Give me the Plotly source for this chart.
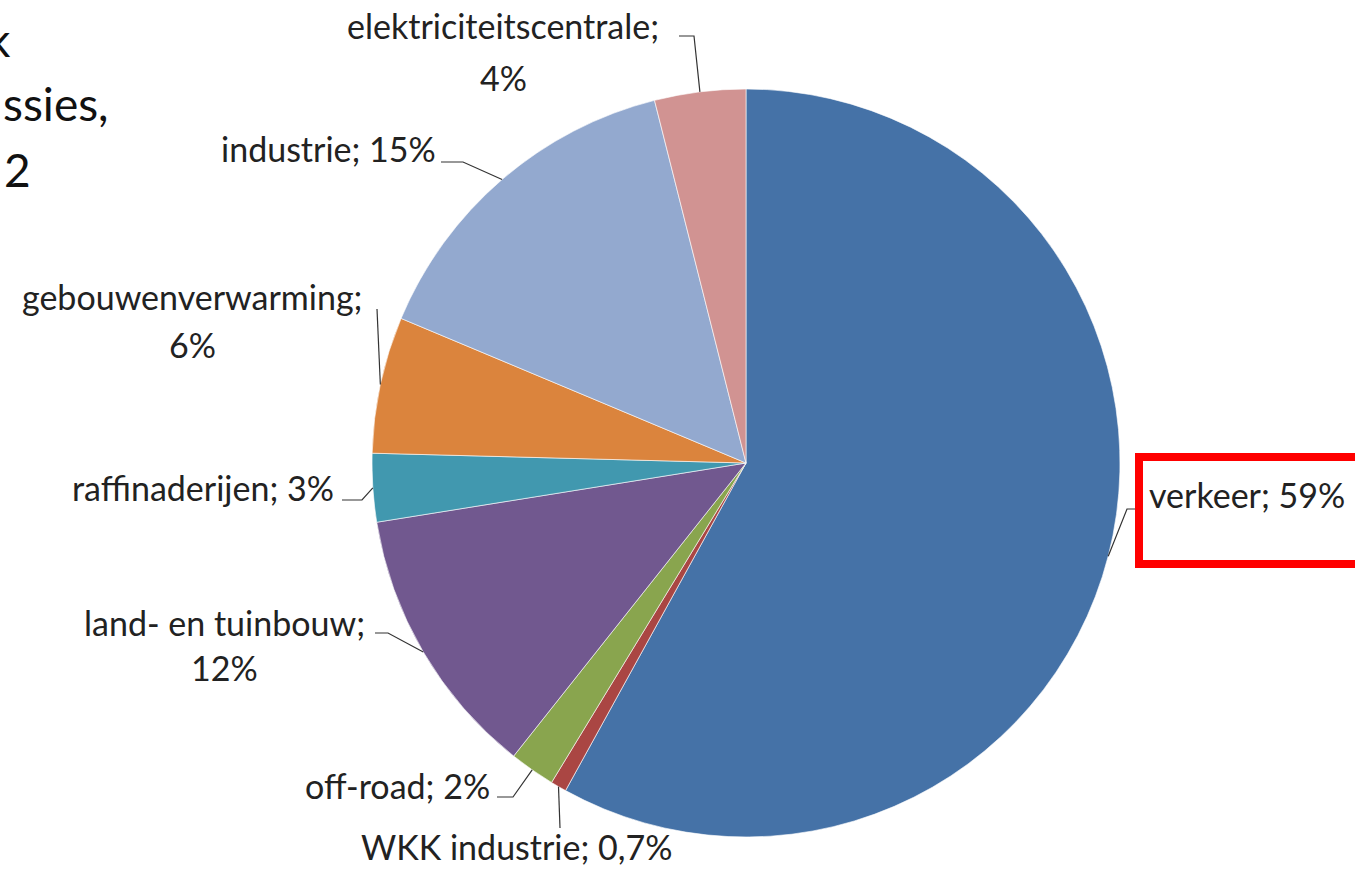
import math
import plotly.graph_objects as go

# ---- data ----
categories = ["verkeer", "WKK industrie", "off-road", "land- en tuinbouw",
              "raffinaderijen", "gebouwenverwarming", "industrie", "elektriciteitscentrale"]
values = [59, 0.7, 2, 12, 3, 6, 15, 4]
value_labels = ["59%", "0,7%", "2%", "12%", "3%", "6%", "15%", "4%"]
colors = ["#4572A7", "#AA4643", "#89A54E", "#71588F",
          "#4198AF", "#DB843D", "#93A9CF", "#D19392"]
title_fragments = ["k", "ssies,", "2"]

W, H = 1355, 872
CX, CY, R = 746, 463, 374  # pie centre / radius in px


def px(x):
    return x / W


def py(y):
    return 1 - y / H


fig = go.Figure(go.Pie(
    labels=categories, values=values, sort=False, direction="clockwise", rotation=0,
    marker=dict(colors=colors, line=dict(color="rgba(255,255,255,0.6)", width=1)),
    textinfo="none", hoverinfo="label+percent", showlegend=False,
    domain=dict(x=[px(CX - R), px(CX + R)], y=[py(CY + R), py(CY - R)]),
))

FS = 34
FONT = dict(family="Lato, 'Open Sans', sans-serif", size=FS, color="#222222")

# label layout (text centre-y of line 1, optional line 2, leader end/elbow points)
label_layout = {
    "verkeer": dict(x=1147, y=494, anchor="left", y2=None, end=(1143, 509), elbow=(1127, 509)),
    "WKK industrie": dict(x=517, y=846, anchor="center", y2=None, end=(560, 828), elbow=(560, 828)),
    "off-road": dict(x=492, y=785, anchor="right", y2=None, end=(497, 797), elbow=(513, 797)),
    "land- en tuinbouw": dict(x=224, y=622, anchor="center", y2=667, end=(375, 633), elbow=(388, 633)),
    "raffinaderijen": dict(x=336, y=487, anchor="right", y2=None, end=(342, 500), elbow=(362, 500)),
    "gebouwenverwarming": dict(x=192, y=297, anchor="center", y2=344, end=(377, 309), elbow=(377, 309)),
    "industrie": dict(x=438, y=149, anchor="right", y2=None, end=(441, 162), elbow=(463, 162)),
    "elektriciteitscentrale": dict(x=503, y=25, anchor="center", y2=77, end=(679, 36), elbow=(694, 36)),
}

total = sum(values)
cum = 0.0
annotations = []
shapes = []
for cat, v, vl in zip(categories, values, value_labels):
    mid = (cum + v / 2) / total * 2 * math.pi
    cum += v
    ex = CX + R * math.sin(mid)
    ey = CY - R * math.cos(mid)
    L = label_layout[cat]
    if L["y2"] is not None:
        annotations.append(dict(x=px(L["x"]), y=py(L["y"]), xref="paper", yref="paper",
                                text=cat + ";", showarrow=False, xanchor="center",
                                yanchor="middle", font=FONT))
        annotations.append(dict(x=px(L["x"]), y=py(L["y2"]), xref="paper", yref="paper",
                                text=vl, showarrow=False, xanchor="center",
                                yanchor="middle", font=FONT))
    else:
        annotations.append(dict(x=px(L["x"]), y=py(L["y"]), xref="paper", yref="paper",
                                text=f"{cat}; {vl}", showarrow=False, xanchor=L["anchor"],
                                yanchor="middle", font=FONT))
    (tx, ty), (bx, by) = L["end"], L["elbow"]
    shapes.append(dict(type="path", xref="paper", yref="paper",
                       path=f"M {px(ex)} {py(ey)} L {px(bx)} {py(by)} L {px(tx)} {py(ty)}",
                       line=dict(color="#333333", width=1.2)))

# cropped title fragments at the left edge (the title is cut off in the original)
TFONT = dict(family="Lato, 'Open Sans', sans-serif", size=46, color="#111111")
for txt, x, y in zip(title_fragments, [-15, 1, 2], [40, 104, 169]):
    annotations.append(dict(x=px(x), y=py(y), xref="paper", yref="paper",
                            text=txt, showarrow=False, xanchor="left", yanchor="middle",
                            font=TFONT))

# red highlight box around "verkeer"
shapes.append(dict(type="rect", xref="paper", yref="paper",
                   x0=px(1139), x1=px(1370), y0=py(564), y1=py(457),
                   line=dict(color="#FF0000", width=8), fillcolor="rgba(0,0,0,0)"))

fig.update_layout(width=W, height=H, margin=dict(l=0, r=0, t=0, b=0),
                  paper_bgcolor="white", plot_bgcolor="white",
                  annotations=annotations, shapes=shapes)

fig.write_html("out.html", config={"displayModeBar": False},
               post_script="document.body.style.margin='0px';document.body.style.overflow='hidden';")
